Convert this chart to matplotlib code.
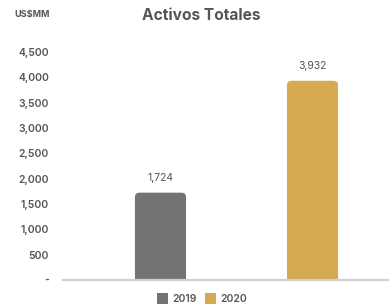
import matplotlib
matplotlib.use('Agg')
from matplotlib import pyplot as plt
from matplotlib.patches import FancyBboxPatch, Rectangle

# data
years = ['2019', '2020']
values = [1724, 3932]
colors = ['#737472', '#d6aa50']
yticks = [0, 500, 1000, 1500, 2000, 2500, 3000, 3500, 4000, 4500]
ytick_labels = ['-', '500', '1,000', '1,500', '2,000', '2,500', '3,000', '3,500', '4,000', '4,500']

plt.rcParams['font.family'] = ['Inter', 'DejaVu Sans']
txt = '#555555'

fig = plt.figure(figsize=(3.89, 3.08), dpi=100)
ax = fig.add_axes([63/389, 28/308, 326/389, 228/308])
ax.set_xlim(-0.641, 1.503)
ax.set_ylim(0, 4500)

w = 0.336
# px per data unit to keep corners round
aspect = (4500 / 228) / (1 / 152)
for i, (v, c) in enumerate(zip(values, colors)):
    p = FancyBboxPatch((i - w/2, 0), w, v, boxstyle='round,pad=0,rounding_size=0.03',
                       mutation_aspect=aspect, facecolor=c, edgecolor='none')
    ax.add_patch(p)
    ax.add_patch(Rectangle((i - w/2, 0), w, v - 200, facecolor=c, edgecolor='none'))
    ax.text(i, v + 190, f'{v:,}', ha='center', va='bottom', fontsize=7.5, color=txt)

ax.set_yticks(yticks)
ax.set_yticklabels(ytick_labels, fontsize=7.5, color=txt, fontweight='semibold')
ax.tick_params(axis='y', length=0, pad=10)
ax.set_xticks([])
for s in ['top', 'right', 'left']:
    ax.spines[s].set_visible(False)
ax.spines['bottom'].set_color('#d0d0d0')
ax.spines['bottom'].set_linewidth(1.6)

fig.text(201/389, 1 - 15/308, 'Activos Totales', ha='center', va='center',
         fontsize=11.2, fontweight='bold', color=txt)
fig.text(50/389, 1 - 14/308, 'US$MM', ha='right', va='center',
         fontsize=6.5, fontweight='bold', color=txt)

# legend
for x0, lab, c in [(157, years[0], colors[0]), (205, years[1], colors[1])]:
    fig.patches.append(Rectangle((x0/389, 1 - 304/308), 11/389, 11/308,
                                 transform=fig.transFigure, facecolor=c, edgecolor='none'))
    fig.text((x0 + 15)/389, 1 - 299/308, lab, ha='left', va='center',
             fontsize=7.5, fontweight='semibold', color=txt)

plt.savefig('out.png', dpi=100)
